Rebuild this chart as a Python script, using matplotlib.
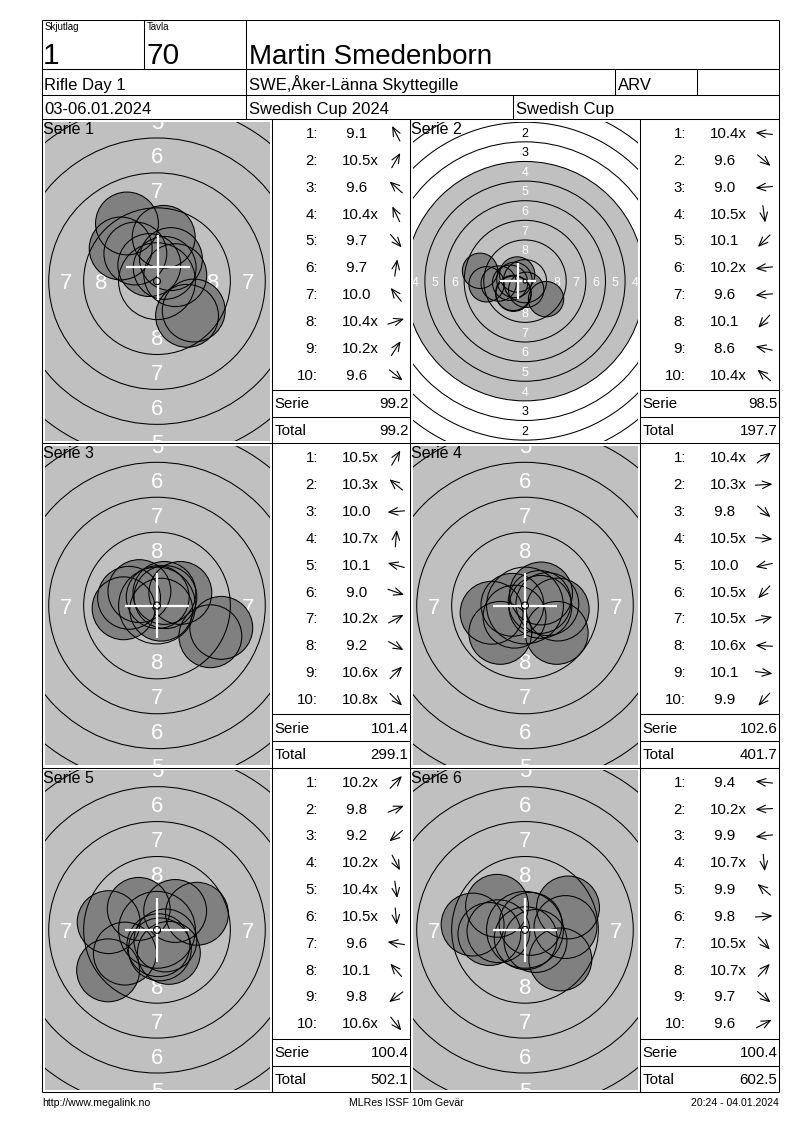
import numpy as np
import matplotlib
matplotlib.use("Agg")
import matplotlib.pyplot as plt
from matplotlib.patches import Circle

plt.rcParams['font.family'] = ['Liberation Sans', 'DejaVu Sans']

# ---------------- header / footer texts ----------------
hdr_small_left = "Skjutlag"
hdr_small_mid = "Tavla"
relay = "1"
lane = "70"
shooter = "Martin Smedenborn"
event_day = "Rifle Day 1"
club = "SWE,Åker-Länna Skyttegille"
shooter_class = "ARV"
dates = "03-06.01.2024"
competition = "Swedish Cup 2024"
cup = "Swedish Cup"
footer_left = "http://www.megalink.no"
footer_mid = "MLRes ISSF 10m Gevär"
footer_right = "20:24 - 04.01.2024"

# ---------------- series data ----------------
series_names = ["Serie 1", "Serie 2", "Serie 3", "Serie 4", "Serie 5", "Serie 6"]

scores_s1 = ["9.1", "10.5x", "9.6", "10.4x", "9.7", "9.7", "10.0", "10.4x", "10.2x", "9.6"]
scores_s2 = ["10.4x", "9.6", "9.0", "10.5x", "10.1", "10.2x", "9.6", "10.1", "8.6", "10.4x"]
scores_s3 = ["10.5x", "10.3x", "10.0", "10.7x", "10.1", "9.0", "10.2x", "9.2", "10.6x", "10.8x"]
scores_s4 = ["10.4x", "10.3x", "9.8", "10.5x", "10.0", "10.5x", "10.5x", "10.6x", "10.1", "9.9"]
scores_s5 = ["10.2x", "9.8", "9.2", "10.2x", "10.4x", "10.5x", "9.6", "10.1", "9.8", "10.6x"]
scores_s6 = ["9.4", "10.2x", "9.9", "10.7x", "9.9", "9.8", "10.5x", "10.7x", "9.7", "9.6"]

serie_sums = ["99.2", "98.5", "101.4", "102.6", "100.4", "100.4"]
totals = ["99.2", "197.7", "299.1", "401.7", "502.1", "602.5"]

# shot centres in mm (x right, y up) relative to target centre
shots_x_s1 = [-2.15, 0.55, -2.6, -0.55, 2.15, 0.48, -1.55, 1.31, 1.0, 2.63]
shots_y_s1 = [4.13, 0.95, 2.34, 1.15, -2.48, 3.17, 1.98, 0.43, 1.58, -2.1]
shots_x_s2 = [-1.35, 2.68, -4.9, 0.15, -1.5, -1.9, -3.35, -1.45, -5.73, -1.0]
shots_y_s2 = [0.15, -2.29, -0.4, -1.1, -1.5, -0.2, -0.3, -1.6, 1.32, 0.85]
shots_x_s3 = [0.53, -1.26, -2.39, 0.05, -2.0, 4.6, 1.67, 3.82, 0.6, 0.3]
shots_y_s3 = [0.9, 1.03, -0.2, 0.6, 0.55, -1.6, 0.9, -2.2, 0.6, -0.3]
shots_x_s4 = [1.15, 1.6, 2.27, 1.1, -2.39, -0.75, 1.05, -0.9, 2.34, -1.77]
shots_y_s4 = [0.86, 0.1, -1.96, -0.1, -0.52, -0.8, 0.25, 0.05, -0.29, -1.96]
shots_x_s5 = [1.3, 2.86, -3.5, 0.85, 0.2, 0.1, -3.46, -1.31, -2.3, 0.6]
shots_y_s5 = [1.35, 1.15, -2.9, -1.65, -1.4, -1.1, 0.55, 1.5, -1.7, -0.76]
shots_x_s6 = [-3.75, -1.9, -2.55, 0.05, -2.0, 2.9, 0.75, 0.4, 2.53, 3.08]
shots_y_s6 = [0.38, -0.1, -0.3, -0.6, 1.72, 0.2, -0.8, 0.43, -2.12, 1.6]

# white aiming cross position per series (mm)
cross_x = [0.05, -0.93, 0.0, 0.0, 0.0, 0.0]
cross_y = [0.98, 0.0, 0.0, 0.0, 0.0, 0.0]

# view zoom per series (pixels per mm)
view_scale = [13.97, 7.85, 13.97, 13.97, 13.97, 13.97]

all_scores = [scores_s1, scores_s2, scores_s3, scores_s4, scores_s5, scores_s6]
all_x = [shots_x_s1, shots_x_s2, shots_x_s3, shots_x_s4, shots_x_s5, shots_x_s6]
all_y = [shots_y_s1, shots_y_s2, shots_y_s3, shots_y_s4, shots_y_s5, shots_y_s6]

# ---------------- target geometry (ISSF 10m air rifle) ----------------
PELLET_R = 2.25
BLACK_R = 15.25
ring_scores = list(range(1, 11))
label_scores = list(range(1, 9))

def ring_radius(s):
    return 0.25 + (10 - s) * 2.5

# ---------------- layout (pixels) ----------------
W, H = 800, 1130
LFT, RGT, TOP, BOT = 42, 779, 20, 1092
HR1, HR2, HR3 = 69, 95, 119
ROW_H = (BOT - HR3) / 3.0
COLS = [(42, 272, 410), (410, 640, 779)]
LW = 0.75
TFS = 10.8   # table font size

fig = plt.figure(figsize=(W / 100, H / 100), dpi=100)
base = fig.add_axes([0, 0, 1, 1])
base.set_xlim(0, W)
base.set_ylim(H, 0)
base.set_axis_off()

def hline(y, x0, x1):
    base.plot([x0, x1], [y, y], color='black', lw=LW, solid_capstyle='butt')

def vline(x, y0, y1):
    base.plot([x, x], [y0, y1], color='black', lw=LW, solid_capstyle='butt')

# outer frame and header grid
hline(TOP, LFT, RGT); hline(BOT, LFT, RGT)
vline(LFT, TOP, BOT); vline(RGT, TOP, BOT)
hline(HR1, LFT, RGT); hline(HR2, LFT, RGT); hline(HR3, LFT, RGT)
vline(144, TOP, HR1)
vline(246, TOP, HR3)
vline(615, HR1, HR2); vline(697, HR1, HR2)
vline(513, HR2, HR3)
for r in (1, 2):
    hline(HR3 + r * ROW_H, LFT, RGT)
for c in COLS:
    vline(c[1], HR3, BOT)
vline(410, HR3, BOT)

# header texts
base.text(45, 21.5, hdr_small_left, fontsize=7, va='top', ha='left')
base.text(147, 21.5, hdr_small_mid, fontsize=7, va='top', ha='left')
base.text(43, 64.5, relay, fontsize=21.5, va='baseline', ha='left')
base.text(146, 64.5, lane, fontsize=21.5, va='baseline', ha='left')
base.text(249, 64.5, shooter, fontsize=20, va='baseline', ha='left')
base.text(44, 90, event_day, fontsize=12, va='baseline', ha='left')
base.text(249, 90, club, fontsize=12, va='baseline', ha='left')
base.text(618, 90, shooter_class, fontsize=12, va='baseline', ha='left')
base.text(44, 114, dates, fontsize=12, va='baseline', ha='left')
base.text(249, 114, competition, fontsize=12, va='baseline', ha='left')
base.text(516, 114, cup, fontsize=12, va='baseline', ha='left')

# footer
base.text(42, 1106, footer_left, fontsize=7.6, va='baseline', ha='left')
base.text(406, 1106, footer_mid, fontsize=7.6, va='baseline', ha='center')
base.text(779, 1106, footer_right, fontsize=7.6, va='baseline', ha='right')

overlay_texts = []

for k in range(6):
    r, c = divmod(k, 2)
    tx0, tx1, tbx1 = COLS[c]
    y0 = HR3 + r * ROW_H
    y1 = y0 + ROW_H
    xs = np.array(all_x[k]); ys = np.array(all_y[k])
    scale = view_scale[k]

    # ---- target axes ----
    inset = 2.5
    ax_x0, ax_x1 = tx0 + inset, tx1 - inset
    ax_y0, ax_y1 = y0 + inset, y1 - inset
    wpx, hpx = ax_x1 - ax_x0, ax_y1 - ax_y0
    ax = fig.add_axes([ax_x0 / W, 1 - ax_y1 / H, wpx / W, hpx / H])
    hw, hh = wpx / 2 / scale, hpx / 2 / scale
    ax.set_xlim(-hw, hw); ax.set_ylim(-hh, hh)
    ax.set_axis_off()

    ax.add_patch(Circle((0, 0), BLACK_R, fc='#c0c0c0', ec='none', zorder=0))
    for s in ring_scores[:-1]:
        ax.add_patch(Circle((0, 0), ring_radius(s), fill=False, ec='black', lw=LW, zorder=3))
    fs = 1.58 * scale * 0.72
    for s in label_scores:
        m = (10 - s) * 2.5 - 1.0
        col = 'white' if m < BLACK_R else 'black'
        spots = []
        if m - 0.6 < hh:
            spots += [(0, m), (0, -m)]
        if m - 0.4 < hw:
            spots += [(m, 0), (-m, 0)]
        for (lx, ly) in spots:
            ax.text(lx, ly, str(s), ha='center', va='center_baseline', fontsize=fs,
                    color=col, zorder=1, clip_on=True)
    for sx, sy in zip(xs, ys):
        ax.add_patch(Circle((sx, sy), PELLET_R, fc='#808080', ec='none', zorder=2))
        ax.add_patch(Circle((sx, sy), PELLET_R, fill=False, ec='black', lw=LW, zorder=3))
    cx, cy = cross_x[k], cross_y[k]
    arm = 2.3
    ax.plot([cx - arm, cx + arm], [cy, cy], color='white', lw=1.6, zorder=4, solid_capstyle='butt')
    ax.plot([cx, cx], [cy - arm, cy + arm], color='white', lw=1.6, zorder=4, solid_capstyle='butt')
    ax.add_patch(Circle((0, 0), ring_radius(10), fill=False, ec='black', lw=LW, zorder=5))

    overlay_texts.append((tx0 + 1.0, y0 + 15, series_names[k]))

    # ---- score table ----
    hline(y0 + 271, tx1, tbx1)
    hline(y0 + 298, tx1, tbx1)
    for i, sc in enumerate(all_scores[k]):
        yb = y0 + 19.0 + i * 26.85
        base.text(tx1 + 46, yb, f"{i + 1}:", fontsize=TFS, ha='right', va='baseline')
        txt = sc if float(sc.rstrip('x')) >= 10 else " " + sc
        base.text(tx1 + 69.5, yb, txt, fontsize=TFS, ha='left', va='baseline')
        ang = np.arctan2(ys[i], xs[i])
        acx, acy = tx1 + 124, yb - 4.5
        L = 17.0
        dx, dy = np.cos(ang) * L / 2, -np.sin(ang) * L / 2
        base.annotate('', xy=(acx + dx, acy + dy), xytext=(acx - dx, acy - dy),
                      arrowprops=dict(arrowstyle='->,head_length=0.7,head_width=0.3',
                                      lw=0.8, color='black', shrinkA=0, shrinkB=0,
                                      mutation_scale=9))
    base.text(tx1 + 2.7, y0 + 289.3, "Serie", fontsize=TFS, ha='left', va='baseline')
    base.text(tbx1 - 1.5, y0 + 289.3, serie_sums[k], fontsize=TFS, ha='right', va='baseline')
    base.text(tx1 + 2.7, y0 + 316, "Total", fontsize=TFS, ha='left', va='baseline')
    base.text(tbx1 - 1.5, y0 + 316, totals[k], fontsize=TFS, ha='right', va='baseline')

over = fig.add_axes([0, 0, 1, 1])
over.set_xlim(0, W); over.set_ylim(H, 0)
over.set_axis_off()
over.patch.set_alpha(0)
for (ox, oy, t) in overlay_texts:
    over.text(ox, oy, t, fontsize=11.5, ha='left', va='baseline')

fig.savefig("out.png", dpi=100, facecolor='white')
